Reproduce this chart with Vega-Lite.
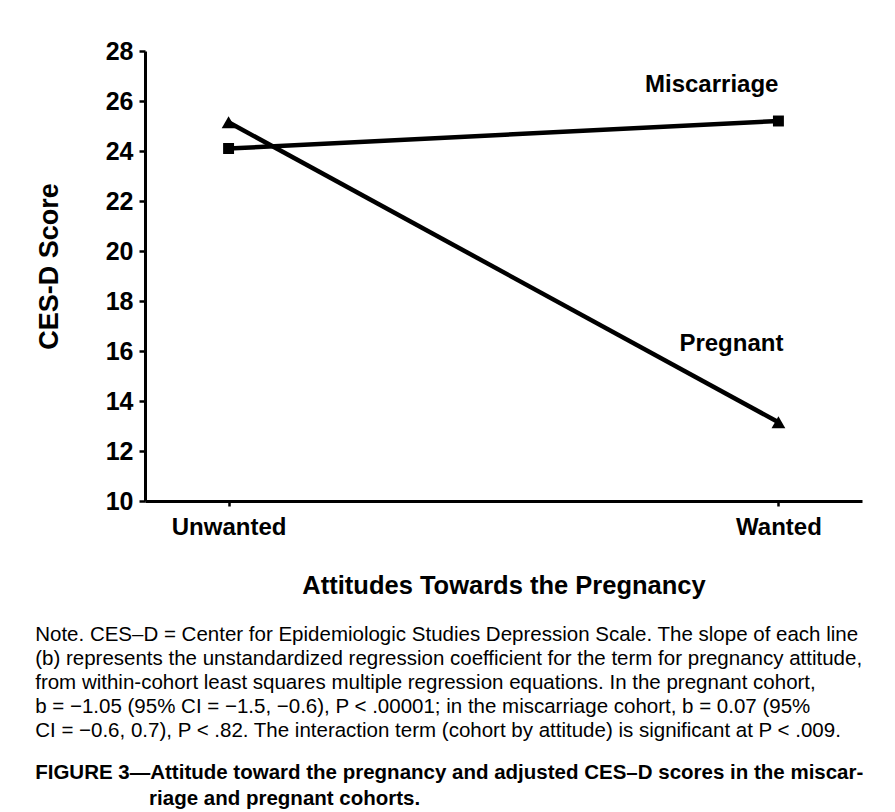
{
  "$schema": "https://vega.github.io/schema/vega-lite/v6.json",
  "width": 717,
  "height": 450,
  "autosize": {"type": "none"},
  "padding": {"left": 145, "top": 51, "right": 33, "bottom": 311},
  "background": "white",
  "config": {
    "font": "Liberation Sans",
    "view": {"stroke": null},
    "axis": {"grid": false, "domainColor": "black", "tickColor": "black", "labelColor": "black", "titleColor": "black"}
  },
  "title": {
    "text": [
      "Note. CES–D = Center for Epidemiologic Studies Depression Scale. The slope of each line",
      "(b) represents the unstandardized regression coefficient for the term for pregnancy attitude,",
      "from within-cohort least squares multiple regression equations. In the pregnant cohort,",
      "b = −1.05 (95% CI = −1.5, −0.6), P < .00001; in the miscarriage cohort, b = 0.07 (95%",
      "CI = −0.6, 0.7), P < .82. The interaction term (cohort by attitude) is significant at P < .009."
    ],
    "subtitle": [
      "FIGURE 3—Attitude toward the pregnancy and adjusted CES–D scores in the miscar-",
      "\u200b\u00a0\u00a0\u00a0\u00a0\u00a0\u00a0\u00a0\u00a0\u00a0\u00a0\u00a0\u00a0\u00a0\u00a0\u00a0\u00a0\u00a0\u00a0\u00a0\u00a0riage and pregnant cohorts."
    ],
    "orient": "bottom",
    "anchor": "start",
    "offset": 26,
    "font": "Liberation Sans",
    "fontSize": 20.5,
    "fontWeight": "normal",
    "lineHeight": 24,
    "color": "black",
    "subtitleFont": "Liberation Sans",
    "subtitleFontSize": 20.5,
    "subtitleFontWeight": "bold",
    "subtitleLineHeight": 26,
    "subtitleColor": "black",
    "subtitlePadding": 22
  },
  "data": {
    "values": [
      {"attitude": "Unwanted", "cohort": "Miscarriage", "score": 24.1},
      {"attitude": "Wanted", "cohort": "Miscarriage", "score": 25.2},
      {"attitude": "Unwanted", "cohort": "Pregnant", "score": 25.15},
      {"attitude": "Wanted", "cohort": "Pregnant", "score": 13.15}
    ]
  },
  "encoding": {
    "x": {
      "field": "attitude",
      "type": "nominal",
      "sort": ["Unwanted", "Wanted"],
      "scale": {"type": "point", "padding": 0.152},
      "axis": {
        "title": "Attitudes Towards the Pregnancy",
        "titleFontSize": 25.5,
        "titleFontWeight": "bold",
        "titlePadding": 34,
        "labelAngle": 0,
        "labelFontSize": 24,
        "labelFontWeight": "bold",
        "labelPadding": 9,
        "tickSize": 5,
        "tickWidth": 2.5,
        "domainWidth": 3
      }
    },
    "y": {
      "field": "score",
      "type": "quantitative",
      "scale": {"domain": [10, 28], "nice": false},
      "axis": {
        "title": "CES-D Score",
        "titleFontSize": 27,
        "titleFontWeight": "bold",
        "titlePadding": 42,
        "titleY": 215,
        "values": [10, 12, 14, 16, 18, 20, 22, 24, 26, 28],
        "labelFontSize": 25,
        "labelFontWeight": "bold",
        "labelPadding": 6,
        "tickSize": 6,
        "tickWidth": 2.5,
        "domainWidth": 3
      }
    }
  },
  "layer": [
    {
      "mark": {"type": "line", "color": "black", "strokeWidth": 4.5},
      "encoding": {"detail": {"field": "cohort"}}
    },
    {
      "mark": {"type": "point", "filled": true, "color": "black", "opacity": 1},
      "encoding": {
        "shape": {"field": "cohort", "scale": {"domain": ["Miscarriage", "Pregnant"], "range": ["square", "triangle-up"]}, "legend": null},
        "size": {"field": "cohort", "scale": {"domain": ["Miscarriage", "Pregnant"], "range": [120, 190]}, "legend": null}
      }
    },
    {
      "transform": [{"filter": "datum.attitude === 'Wanted' && datum.cohort === 'Miscarriage'"}],
      "mark": {"type": "text", "align": "right", "baseline": "middle", "dx": 0, "dy": -36, "fontSize": 24, "fontWeight": "bold", "color": "black"},
      "encoding": {"text": {"field": "cohort"}}
    },
    {
      "transform": [{"filter": "datum.attitude === 'Wanted' && datum.cohort === 'Pregnant'"}],
      "mark": {"type": "text", "align": "right", "baseline": "middle", "dx": 5, "dy": -78, "fontSize": 24, "fontWeight": "bold", "color": "black"},
      "encoding": {"text": {"field": "cohort"}}
    }
  ]
}
